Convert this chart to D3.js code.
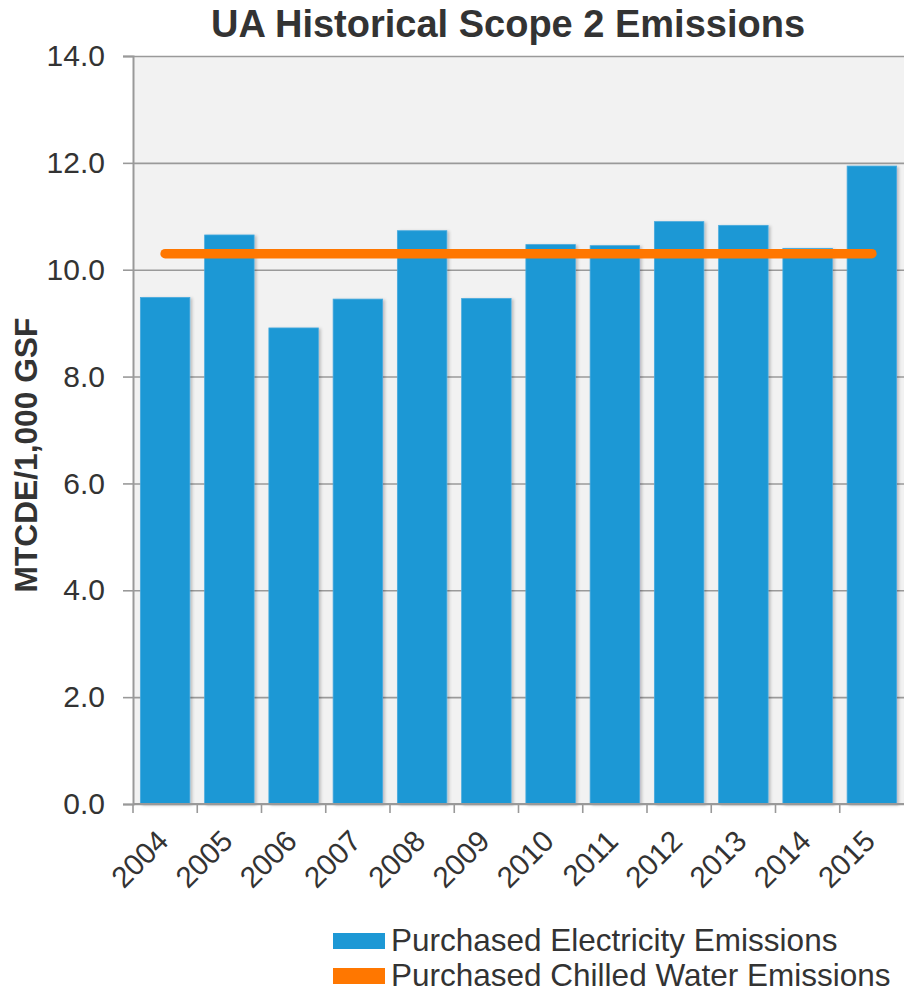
<!DOCTYPE html>
<html>
<head>
<meta charset="utf-8">
<script src="https://cdn.jsdelivr.net/npm/d3@7"></script>
<style>
  html, body { margin: 0; padding: 0; background: #fff; }
  svg { display: block; }
  text { font-family: "Liberation Sans", Arial, sans-serif; fill: #333; }
</style>
</head>
<body>
<svg id="chart" width="904" height="992"></svg>
<script>
// Chart data
const years = ["2004","2005","2006","2007","2008","2009","2010","2011","2012","2013","2014","2015"];
const electricity = [9.48, 10.65, 8.91, 9.45, 10.73, 9.46, 10.47, 10.45, 10.90, 10.83, 10.40, 11.94];
const chilledWater = [10.3, 10.3, 10.3, 10.3, 10.3, 10.3, 10.3, 10.3, 10.3, 10.3, 10.3, 10.3];
const yTicks = [0, 2, 4, 6, 8, 10, 12, 14];
const seriesNames = ["Purchased Electricity Emissions", "Purchased Chilled Water Emissions"];
const seriesColors = ["#1d98d5", "#ff7700"];

const svg = d3.select("#chart");
const margin = { left: 133, right: 0, top: 56, bottom: 188 };
const W = 904, H = 992;
const plotW = W - margin.left - margin.right;
const plotH = H - margin.top - margin.bottom;

const defs = svg.append("defs");
const shadow = defs.append("filter").attr("id", "shadow")
  .attr("x", "-10%").attr("y", "-10%").attr("width", "130%").attr("height", "130%");
shadow.append("feDropShadow").attr("dx", 2).attr("dy", 1).attr("stdDeviation", 1.8)
  .attr("flood-color", "#000").attr("flood-opacity", 0.22);

const x = d3.scaleBand().domain(years).range([0, plotW]).padding(0);
const y = d3.scaleLinear().domain([0, 14]).range([plotH, 0]);

const g = svg.append("g").attr("transform", `translate(${margin.left},${margin.top})`);

// plot background
g.append("rect").attr("width", plotW).attr("height", plotH).attr("fill", "#f2f2f2");

// horizontal gridlines
g.append("g")
  .call(d3.axisLeft(y).tickValues(yTicks).tickSize(-plotW).tickFormat(""))
  .call(s => s.select(".domain").remove())
  .call(s => s.selectAll("line").attr("stroke", "#9a9a9a").attr("stroke-width", 1.6));

// bars
const barW = x.bandwidth() * 0.77;
g.append("g").selectAll("rect").data(electricity).join("rect")
  .attr("x", (d, i) => x(years[i]) + (x.bandwidth() - barW) / 2)
  .attr("y", d => y(d))
  .attr("width", barW)
  .attr("height", d => y(0) - y(d))
  .attr("fill", seriesColors[0])
  .attr("stroke", "#47aade")
  .attr("stroke-width", 0.8)
  .attr("filter", "url(#shadow)");

// chilled water line
const line = d3.line()
  .x((d, i) => x(years[i]) + x.bandwidth() / 2)
  .y(d => y(d));
g.append("path").datum(chilledWater)
  .attr("d", line)
  .attr("fill", "none")
  .attr("stroke", seriesColors[1])
  .attr("stroke-width", 9.5)
  .attr("stroke-linecap", "round")
  .attr("stroke-linejoin", "round");

// y axis
const yAxis = g.append("g")
  .call(d3.axisLeft(y).tickValues(yTicks).tickFormat(d3.format(".1f")).tickSize(10).tickPadding(18))
  .call(s => s.select(".domain").attr("stroke", "#999").attr("stroke-width", 2));
yAxis.selectAll("line").attr("stroke", "#999").attr("stroke-width", 1.6);
yAxis.selectAll("text").attr("font-size", 30).attr("fill", "#333")
  .attr("font-family", "'Liberation Sans', Arial, sans-serif");

// x axis line
g.append("line").attr("x1", 0).attr("x2", plotW).attr("y1", y(0)).attr("y2", y(0))
  .attr("stroke", "#999").attr("stroke-width", 2);

// x tick marks at category boundaries
g.append("g").selectAll("line").data(years).join("line")
  .attr("x1", d => x(d)).attr("x2", d => x(d))
  .attr("y1", y(0)).attr("y2", y(0) + 9)
  .attr("stroke", "#999").attr("stroke-width", 1.6);

// x labels
g.append("g").selectAll("text").data(years).join("text")
  .attr("transform", d => `translate(${x(d) + x.bandwidth() / 2 + 5},${y(0) + 39}) rotate(-45)`)
  .attr("text-anchor", "end")
  .attr("font-size", 29.5)
  .text(d => d);

// title
svg.append("text")
  .attr("x", 508).attr("y", 37)
  .attr("text-anchor", "middle")
  .attr("font-size", 38).attr("font-weight", "bold")
  .text("UA Historical Scope 2 Emissions");

// y axis title
svg.append("text")
  .attr("transform", `translate(37,${margin.top + plotH * 0.5335}) rotate(-90)`)
  .attr("text-anchor", "middle")
  .attr("font-size", 31.7).attr("font-weight", "bold")
  .attr("fill", "#1a1a1a")
  .text("MTCDE/1,000 GSF");

// legend
const legend = svg.append("g").attr("transform", "translate(333,932)");
const items = legend.selectAll("g").data(seriesNames).join("g")
  .attr("transform", (d, i) => `translate(0,${i * 35})`);
items.append("rect").attr("width", 52).attr("height", 16).attr("y", 1)
  .attr("fill", (d, i) => seriesColors[i]);
items.append("text").attr("x", 58).attr("y", 18.5)
  .attr("font-size", 31.5)
  .text(d => d);
</script>
</body>
</html>
